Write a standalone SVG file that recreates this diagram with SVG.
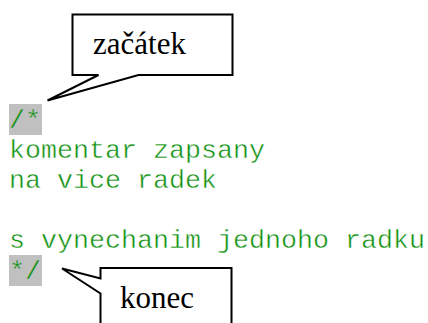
<svg xmlns="http://www.w3.org/2000/svg" width="428" height="323" viewBox="0 0 428 323">
  <style>
    /* thin white outline keeps the monospace strokes light, like Courier */
    .code { font-family: "Liberation Mono", "Courier New", monospace; font-size: 26.67px; fill: #109010; stroke: #ffffff; stroke-width: 0.45; }
    .onmark { stroke: #c0c0c0; }
    .mark { fill: #c0c0c0; }
    .callout { fill: #ffffff; stroke: #000000; stroke-width: 2; stroke-linejoin: miter; }
    .label { font-family: "Liberation Serif", "Times New Roman", serif; font-size: 31px; fill: #000000; }
  </style>
  <rect width="428" height="323" fill="#ffffff"/>

  <!-- comment source -->
  <g id="code">
    <rect class="mark" x="9" y="104" width="33" height="31"/>
    <rect class="mark" x="9" y="255" width="33" height="31"/>
    <text class="code onmark" x="9" y="127.6">/*</text>
    <text class="code" x="9" y="157.8">komentar zapsany</text>
    <text class="code" x="9" y="188">na vice radek</text>
    <text class="code" x="9" y="248.3">s vynechanim jednoho radku</text>
    <text class="code onmark" x="9" y="278.5">*/</text>
  </g>

  <!-- callout pointing at the opening delimiter -->
  <g id="zacatek">
    <path class="callout" d="M72.5,14.5 H232.5 V75 H138.5 L47.5,100.5 L98.5,75 H72.5 Z"/>
    <text class="label" x="93" y="54">začátek</text>
  </g>

  <!-- callout pointing at the closing delimiter -->
  <g id="konec">
    <path class="callout" d="M100.5,268 H231.5 V330 H100.5 V293.5 L62,268.5 L100.5,278.5 Z"/>
    <text class="label" x="120" y="308">konec</text>
  </g>

  <g id="connectors"/>
</svg>
